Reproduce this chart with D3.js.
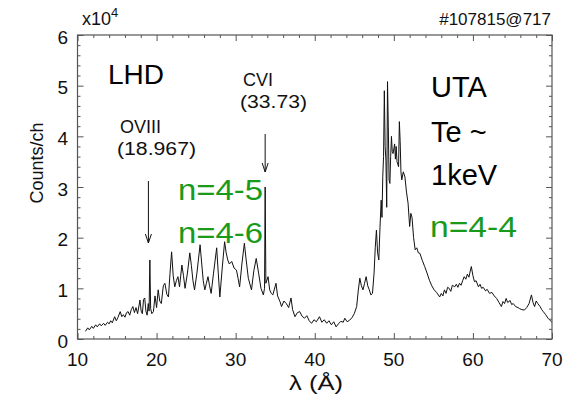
<!DOCTYPE html>
<html>
<head>
<meta charset="utf-8">
<script src="https://cdn.jsdelivr.net/npm/d3@7"></script>
<style>
  html, body { margin: 0; padding: 0; background: #fff; }
  svg { display: block; font-family: "Liberation Sans", Arial, sans-serif; }
</style>
</head>
<body>
<svg id="chart" width="575" height="396"></svg>
<script>
// Wavelength grid (Å) and measured counts per channel (units of 1e4)
const lambdaA = [
  11.0, 11.3, 11.5, 11.8, 12.0, 12.3, 12.5, 12.8, 13.0, 13.3, 13.5, 13.8, 14.0, 14.2, 14.4, 14.7, 14.9, 15.1, 15.4, 15.6,
  15.8, 16.0, 16.2, 16.4, 16.6, 16.8, 17.0, 17.2, 17.4, 17.6, 17.9, 18.05, 18.2, 18.35, 18.5, 18.65, 18.8, 18.95, 19.05, 19.15,
  19.25, 19.4, 19.6, 19.8, 20.0, 20.2, 20.4, 20.6, 20.85, 21.05, 21.3, 21.5, 21.7, 21.9, 22.1, 22.3, 22.5, 22.7, 22.9, 23.2,
  23.4, 23.6, 23.9, 24.2, 24.4, 24.6, 24.8, 25.1, 25.5, 25.7, 25.9, 26.1, 26.3, 26.5, 26.7, 26.9, 27.2, 27.6, 27.8, 28.0,
  28.3, 28.6, 28.8, 29.0, 29.2, 29.5, 29.8, 30.1, 30.3, 30.5, 30.8, 31.1, 31.3, 31.6, 32.0, 32.3, 32.6, 32.9, 33.2, 33.5,
  33.65, 33.73, 33.82, 34.1, 34.3, 34.5, 34.7, 35.1, 35.3, 35.6, 35.8, 36.1, 36.4, 36.7, 37.0, 37.2, 37.5, 37.8, 38.1, 38.4,
  38.7, 39.0, 39.3, 39.6, 39.9, 40.2, 40.6, 40.9, 41.2, 41.5, 41.8, 42.1, 42.4, 42.7, 43.0, 43.3, 43.6, 43.8, 44.1, 44.4,
  44.7, 45.0, 45.3, 45.5, 45.7, 45.9, 46.1, 46.3, 46.5, 46.7, 46.9, 47.1, 47.3, 47.5, 47.65, 47.8, 47.95, 48.1, 48.25, 48.4,
  48.5, 48.6, 48.7, 48.8, 48.9, 49.0, 49.1, 49.2, 49.3, 49.4, 49.5, 49.6, 49.7, 49.8, 49.9, 50.0, 50.1, 50.2, 50.3, 50.4,
  50.5, 50.6, 50.7, 50.8, 50.9, 51.0, 51.2, 51.4, 51.6, 51.8, 52.0, 52.15, 52.3, 52.5, 52.7, 52.9, 53.1, 53.3, 53.6, 53.9,
  54.2, 54.5, 54.8, 55.1, 55.4, 55.8, 56.0, 56.2, 56.4, 56.6, 56.8, 57.0, 57.2, 57.4, 57.7, 57.9, 58.1, 58.3, 58.5, 58.7,
  58.9, 59.1, 59.3, 59.5, 59.6, 59.8, 60.0, 60.2, 60.4, 60.7, 60.9, 61.1, 61.3, 61.6, 61.8, 62.1, 62.4, 62.7, 63.0, 63.3,
  63.6, 63.8, 64.0, 64.2, 64.4, 64.7, 64.9, 65.1, 65.4, 65.7, 65.9, 66.2, 66.5, 66.8, 67.1, 67.4, 67.6, 67.8, 68.0, 68.2,
  68.5, 68.7, 68.9, 69.2, 69.5, 69.8, 70.0
];
const counts = [
  0.15, 0.22, 0.18, 0.25, 0.21, 0.28, 0.24, 0.30, 0.26, 0.31, 0.27, 0.33, 0.30, 0.36, 0.32, 0.44, 0.36, 0.42, 0.54, 0.44,
  0.48, 0.43, 0.52, 0.54, 0.47, 0.58, 0.64, 0.52, 0.62, 0.50, 0.77, 0.55, 0.50, 0.78, 0.81, 0.55, 0.47, 0.70, 0.55, 1.56,
  0.60, 0.50, 0.54, 0.85, 0.62, 0.97, 0.75, 0.70, 1.05, 1.10, 0.88, 0.83, 1.30, 1.72, 1.25, 1.03, 1.15, 1.23, 1.03, 1.46,
  1.25, 1.00, 1.30, 1.70, 1.45, 1.15, 0.97, 1.30, 1.86, 1.50, 1.15, 0.97, 1.10, 1.23, 1.05, 0.90, 1.30, 1.80, 1.30, 0.83,
  1.40, 1.92, 1.70, 1.56, 1.48, 1.53, 1.40, 1.36, 1.20, 1.03, 1.50, 1.89, 1.60, 1.20, 0.97, 1.35, 1.59, 1.30, 1.00, 0.87,
  1.00, 3.00, 1.10, 1.23, 0.97, 0.90, 0.87, 1.10, 0.85, 0.74, 0.64, 0.75, 0.70, 0.62, 0.81, 0.58, 0.44, 0.52, 0.54, 0.45,
  0.41, 0.46, 0.36, 0.31, 0.38, 0.34, 0.44, 0.33, 0.38, 0.31, 0.36, 0.28, 0.34, 0.24, 0.30, 0.35, 0.33, 0.41, 0.34, 0.37,
  0.42, 0.50, 0.64, 0.95, 1.20, 1.05, 0.97, 1.10, 1.23, 1.05, 0.97, 0.87, 0.90, 1.30, 1.80, 2.15, 1.70, 1.56, 2.20, 2.74,
  2.40, 3.20, 3.60, 4.90, 3.80, 3.53, 2.60, 5.08, 4.20, 3.14, 3.07, 3.60, 4.00, 3.70, 3.66, 3.75, 3.85, 3.55, 3.80, 3.50,
  3.45, 3.40, 4.29, 3.90, 3.30, 3.14, 3.30, 3.20, 2.90, 2.68, 2.22, 2.48, 2.40, 2.00, 1.76, 1.80, 1.70, 1.69, 1.55, 1.43,
  1.30, 1.16, 1.05, 0.97, 0.92, 0.83, 0.90, 0.85, 0.97, 0.90, 1.02, 1.00, 0.94, 1.06, 1.03, 1.08, 1.02, 1.10, 1.06, 1.15,
  1.23, 1.18, 1.28, 1.22, 1.30, 1.43, 1.25, 1.13, 1.15, 1.03, 1.08, 1.00, 1.02, 0.95, 0.98, 0.90, 0.92, 0.85, 0.80, 0.72,
  0.64, 0.74, 0.70, 0.80, 0.72, 0.76, 0.68, 0.70, 0.64, 0.62, 0.60, 0.58, 0.57, 0.62, 0.70, 0.87, 0.72, 0.64, 0.75, 0.70,
  0.64, 0.58, 0.54, 0.48, 0.41, 0.36, 0.33
];

// Axis ticks
const xMajor = [10, 20, 30, 40, 50, 60, 70];
const xMinor = [12, 14, 16, 18, 22, 24, 26, 28, 32, 34, 36, 38, 42, 44, 46, 48, 52, 54, 56, 58, 62, 64, 66, 68];
const yMajor = [0, 1, 2, 3, 4, 5, 6];
const yMinor = [0.2, 0.4, 0.6, 0.8, 1.2, 1.4, 1.6, 1.8, 2.2, 2.4, 2.6, 2.8, 3.2, 3.4, 3.6, 3.8, 4.2, 4.4, 4.6, 4.8, 5.2, 5.4, 5.6, 5.8];

// Line identifications: ion, wavelength label, wavelength (Å)
const lineIds = [
  { name: "OVIII", wl: "(18.967)", lambda: 18.967 },
  { name: "CVI", wl: "(33.73)", lambda: 33.73 }
];

const svg = d3.select("#chart");
const L = 77.5, R = 552, T = 35, B = 339;

const x = d3.scaleLinear().domain([10, 70]).range([L, R]);
const y = d3.scaleLinear().domain([0, 6]).range([B, T]);

const frameColor = "#555";
const ink = "#111";

// Spectrum
const pts = lambdaA.map((l, i) => [l, counts[i]]);
svg.append("clipPath").attr("id", "plotclip")
  .append("rect").attr("x", L).attr("y", T).attr("width", R - L).attr("height", B - T);

svg.append("path")
  .datum(pts)
  .attr("clip-path", "url(#plotclip)")
  .attr("fill", "none")
  .attr("stroke", ink)
  .attr("stroke-width", 1)
  .attr("d", d3.line().x(d => x(d[0])).y(d => y(d[1])));

// Axes with inward ticks on all four sides
function drawAxis(axisGen, tx, ty) {
  const g = svg.append("g").attr("transform", `translate(${tx},${ty})`).call(axisGen);
  g.select(".domain").remove();
  g.selectAll("line").attr("stroke", frameColor);
  return g;
}
drawAxis(d3.axisBottom(x).tickValues(xMajor).tickSize(-6).tickFormat(""), 0, B);
drawAxis(d3.axisBottom(x).tickValues(xMinor).tickSize(-3).tickFormat(""), 0, B);
drawAxis(d3.axisTop(x).tickValues(xMajor).tickSize(-6).tickFormat(""), 0, T);
drawAxis(d3.axisTop(x).tickValues(xMinor).tickSize(-3).tickFormat(""), 0, T);
drawAxis(d3.axisLeft(y).tickValues(yMajor).tickSize(-6).tickFormat(""), L, 0);
drawAxis(d3.axisLeft(y).tickValues(yMinor).tickSize(-3).tickFormat(""), L, 0);
drawAxis(d3.axisRight(y).tickValues(yMajor).tickSize(-6).tickFormat(""), R, 0);
drawAxis(d3.axisRight(y).tickValues(yMinor).tickSize(-3).tickFormat(""), R, 0);

// Frame
svg.append("rect")
  .attr("x", L).attr("y", T).attr("width", R - L).attr("height", B - T)
  .attr("fill", "none").attr("stroke", frameColor).attr("stroke-width", 1.2);

// Tick labels
svg.append("g").selectAll("text").data(xMajor).join("text")
  .attr("x", d => x(d)).attr("y", B + 27)
  .attr("text-anchor", "middle")
  .attr("font-size", 19).attr("fill", ink)
  .text(d => d);
svg.append("g").selectAll("text").data(yMajor).join("text")
  .attr("x", 68).attr("y", d => y(d) + 2)
  .attr("text-anchor", "end")
  .attr("dominant-baseline", "central")
  .attr("font-size", 19).attr("fill", ink)
  .text(d => d);

// Axis titles
svg.append("text").attr("x", 289).attr("y", 390)
  .attr("font-size", 21).attr("fill", ink)
  .attr("textLength", 54).attr("lengthAdjust", "spacingAndGlyphs")
  .text("λ (Å)");
svg.append("text")
  .attr("transform", "translate(43,163) rotate(-90)")
  .attr("text-anchor", "middle").attr("font-size", 18).attr("fill", ink)
  .text("Counts/ch");

// Scale factor and shot label
const sc = svg.append("text").attr("x", 82).attr("y", 25).attr("font-size", 18).attr("fill", ink);
sc.append("tspan").text("x10");
sc.append("tspan").attr("dy", -8).attr("font-size", 13).text("4");
svg.append("text").attr("x", 551).attr("y", 25).attr("text-anchor", "end")
  .attr("font-size", 17).attr("fill", ink).text("#107815@717");

// Device label
svg.append("text").attr("x", 108).attr("y", 84).attr("font-size", 28).attr("fill", "#000").text("LHD");

// Line identification labels and arrows
const labelPos = [
  { nx: 120, ny: 133, wx: 117, wy: 155, wlLen: 79, y0: 181, y1: 243 },
  { nx: 243, ny: 86, wx: 240, wy: 108, wlLen: 67, y0: 134, y1: 172 }
];
lineIds.forEach((d, i) => {
  const p = labelPos[i];
  svg.append("text").attr("x", p.nx).attr("y", p.ny).attr("font-size", 18).attr("fill", ink).text(d.name);
  svg.append("text").attr("x", p.wx).attr("y", p.wy).attr("font-size", 18).attr("fill", ink)
    .attr("textLength", p.wlLen).attr("lengthAdjust", "spacingAndGlyphs").text(d.wl);
  const ax = x(d.lambda);
  svg.append("line").attr("x1", ax).attr("x2", ax).attr("y1", p.y0).attr("y2", p.y1)
    .attr("stroke", ink).attr("stroke-width", 1);
  svg.append("path")
    .attr("d", `M${ax - 3},${p.y1 - 9} L${ax},${p.y1} L${ax + 3},${p.y1 - 9}`)
    .attr("fill", "none").attr("stroke", ink).attr("stroke-width", 1);
});

// Transition-array annotations
const green = "#1a9a1a";
const notes = [
  { t: "n=4-5", x: 178, y: 200, c: green, len: 85 },
  { t: "n=4-6", x: 178, y: 243, c: green, len: 85 },
  { t: "UTA", x: 431, y: 97, c: "#000", len: null },
  { t: "Te ~", x: 431, y: 142, c: "#000", len: null },
  { t: "1keV", x: 431, y: 185, c: "#000", len: null },
  { t: "n=4-4", x: 430, y: 237, c: green, len: 87 }
];
svg.append("g").selectAll("text").data(notes).join("text")
  .attr("x", d => d.x).attr("y", d => d.y)
  .attr("font-size", 29).attr("fill", d => d.c)
  .attr("textLength", d => d.len)
  .attr("lengthAdjust", "spacingAndGlyphs")
  .text(d => d.t);
</script>
</body>
</html>
